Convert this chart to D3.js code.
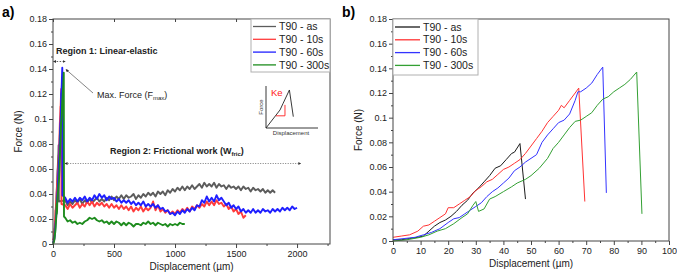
<!DOCTYPE html>
<meta charset="utf-8">
<style>
body { margin: 0; background: #fff; }
svg { font-family: "Liberation Sans", Arial, sans-serif; }
.frame { fill: none; stroke: #444; stroke-width: 1; }
.axis path { display: none; }
.axis line { stroke: #444; }
.axis text { font-size: 9px; fill: #222; }
.title { font-size: 10px; fill: #222; }
.series { fill: none; stroke-linejoin: round; }
.legend text { font-size: 10.5px; fill: #222; }
.note { font-size: 9px; fill: #222; }
.bold { font-weight: bold; }
</style>
<svg width="677" height="274"></svg>
<script src="https://d3js.org/d3.v7.min.js"></script>
<script>

// ---- data ----
var seriesNames = ["T90 - as", "T90 - 10s", "T90 - 60s", "T90 - 300s"];
var yTicks = [0, 0.02, 0.04, 0.06, 0.08, 0.1, 0.12, 0.14, 0.16, 0.18];
var yTickLabels = ["0", "0.02", "0.04", "0.06", "0.08", "0.1", "0.12", "0.14", "0.16", "0.18"];
var xTicksA = [0, 500, 1000, 1500, 2000];
var xTicksB = [0, 10, 20, 30, 40, 50, 60, 70, 80, 90, 100];

// loading part up to fracture (displacement um, force N), panel b
var asX   = [0, 3, 6, 9, 11, 13, 15, 17, 19, 21, 23, 25, 27, 29, 31, 33, 35, 37, 39, 41, 43, 44, 46, 48];
var asY   = [.001, .001, .002, .003, .004, .008, .012, .015, .017, .020, .024, .029, .033, .039, .043, .048, .053, .059, .061, .066, .071, .072, .079, .034];
var s10X  = [0, 3, 6, 9, 11, 13, 15, 17, 19, 20, 22, 24, 26, 28, 30, 32, 34, 36, 38, 40, 42, 44, 46, 48, 50, 52, 54, 56, 58, 60, 61, 62, 64, 66, 67.3, 69.5];
var s10Y  = [.003, .004, .005, .008, .012, .013, .016, .019, .022, .027, .027, .030, .033, .036, .041, .044, .048, .050, .054, .058, .060, .063, .066, .071, .077, .083, .089, .096, .101, .106, .110, .108, .114, .120, .124, .032];
var s60X  = [0, 4, 8, 11, 14, 17, 20, 22, 24, 26, 28, 30, 32, 34, 36, 38, 40, 42, 44, 46, 48, 50, 52, 54, 56, 58, 60, 62, 64, 66, 67, 68, 70, 72, 74, 76, 77.3];
var s60Y  = [.001, .002, .003, .005, .007, .010, .015, .018, .019, .022, .025, .028, .031, .036, .040, .043, .047, .051, .057, .060, .064, .067, .070, .080, .086, .091, .096, .098, .103, .114, .121, .121, .124, .128, .135, .141, .039];
var s300X = [0, 5, 10, 13, 16, 19, 22, 25, 27, 29, 30, 31, 33, 35, 37, 40, 43, 45, 48, 50, 53, 56, 58, 60, 62, 64, 66, 68, 70, 72, 74, 76, 78, 80, 82, 84, 86, 88.3, 90.2];
var s300Y = [0, .001, .003, .005, .008, .010, .014, .019, .022, .029, .032, .024, .026, .034, .036, .040, .044, .047, .050, .053, .059, .067, .075, .080, .086, .092, .097, .098, .101, .104, .110, .115, .117, .121, .124, .127, .131, .137, .022];

// frictional part, panel a: sampled every 20 um from 100 um
var fricStart = 100, fricStep = 20;
var asFric = [
  .035,.031,.034,.032,.035, .033,.036,.032,.035,.033, .036,.033,.035,.037,.034, .036,.034,.037,.035,.038,
  .035,.038,.036,.039,.036, .039,.037,.038,.040,.036, .039,.037,.040,.038,.041, .039,.041,.038,.042,.040,
  .042,.039,.043,.041,.044, .042,.045,.043,.046,.043, .046,.044,.047,.044,.046, .048,.045,.049,.046,.048,
  .046,.049,.045,.048,.046, .047,.044,.047,.045,.046, .044,.046,.043,.046,.044, .045,.042,.045,.043,.044,
  .042,.044,.041,.043,.041, .043,.041];
var s10Fric = [
  .031,.028,.032,.029,.031, .033,.029,.032,.030,.034, .031,.034,.030,.033,.031, .033,.030,.032,.029,.032,
  .029,.031,.028,.031,.028, .030,.027,.030,.026,.029, .027,.030,.026,.029,.027, .029,.034,.027,.031,.026,
  .028,.025,.027,.024,.026, .024,.027,.025,.028,.026, .029,.026,.030,.028,.031, .029,.032,.030,.034,.031,
  .034,.031,.035,.032,.033, .030,.032,.028,.030,.026, .028,.024,.026,.021,.023];
var s60Fric = [
  .037,.033,.036,.034,.037, .034,.037,.035,.038,.034, .037,.035,.039,.036,.040, .037,.039,.035,.038,.036,
  .037,.034,.036,.033,.035, .033,.035,.032,.034,.031, .033,.031,.034,.030,.032, .030,.032,.029,.031,.028,
  .029,.026,.027,.024,.025, .023,.026,.024,.027,.025, .028,.026,.029,.027,.031, .030,.035,.033,.038,.034,
  .037,.034,.039,.035,.037, .034,.031,.033,.029,.031, .028,.030,.026,.028,.025, .027,.025,.028,.025,.027,
  .025,.028,.026,.027,.025, .028,.026,.028,.026,.029, .027,.029,.027,.030,.028, .029];
var s300Fric = [
  .021,.018,.019,.017,.018, .016,.017,.016,.018,.019, .021,.020,.021,.019,.018, .019,.017,.018,.016,.018,
  .016,.018,.017,.015,.017, .015,.017,.016,.014,.016, .016,.015,.017,.016,.018, .016,.017,.015,.017,.016,
  .015,.016,.014,.016,.015, .016,.015,.017,.016,.016];

// sketch in the inset (relative units)
var insetCurve = [[0, 0], [0.27, 0.43], [0.33, 0.59], [0.45, 0.905], [0.525, 0.27]];
var insetKe = [[0.19, 0.29], [0.365, 0.29], [0.365, 0.55]];

var colorsA = ["#5c5c5c", "#ff3b3b", "#1f1fff", "#1e8c1e"];
var colorsB = ["#1a1a1a", "#ff3333", "#3333ff", "#33a033"];

// ---- helpers ----
var svg = d3.select("svg");

function zip(xs, ys) { return xs.map(function(v, i) { return [v, ys[i]]; }); }
function fric(vals) { return vals.map(function(v, i) { return [fricStart + i * fricStep, v]; }); }

var loading = [zip(asX, asY), zip(s10X, s10Y), zip(s60X, s60Y), zip(s300X, s300Y)];
var frictional = [asFric, s10Fric, s60Fric, s300Fric].map(fric);

function panel(opt) {
  var x = d3.scaleLinear().domain(opt.xDomain).range(opt.xRange),
      y = d3.scaleLinear().domain([0, 0.18]).range(opt.yRange);
  var g = svg.append("g");

  // minor ticks
  g.append("g").attr("class", "axis")
      .attr("transform", "translate(0," + opt.yRange[0] + ")")
      .call(d3.axisBottom(x).tickValues(opt.xMinor).tickSize(2).tickFormat(""));
  g.append("g").attr("class", "axis")
      .attr("transform", "translate(" + opt.xRange[0] + ",0)")
      .call(d3.axisLeft(y).tickValues(d3.range(0.01, 0.18, 0.02)).tickSize(2).tickFormat(""));

  g.append("g").attr("class", "axis")
      .attr("transform", "translate(0," + opt.yRange[0] + ")")
      .call(d3.axisBottom(x).tickValues(opt.xTicks).tickSize(4).tickPadding(3).tickFormat(d3.format("d")));
  g.append("g").attr("class", "axis")
      .attr("transform", "translate(" + opt.xRange[0] + ",0)")
      .call(d3.axisLeft(y).tickValues(yTicks).tickSize(4).tickPadding(2)
        .tickFormat(function(d, i) { return yTickLabels[i]; }));
  if (opt.topTicks) {
    g.append("g").attr("class", "axis")
        .attr("transform", "translate(0," + opt.yRange[1] + ")")
        .call(d3.axisBottom(x).tickValues(opt.xTicks).tickSize(3).tickFormat(""));
  }

  var line = d3.line().x(function(d) { return x(d[0]); }).y(function(d) { return y(d[1]); });
  g.selectAll(".series").data(opt.series).enter().append("path")
      .attr("class", "series")
      .attr("stroke", function(d, i) { return opt.colors[i]; })
      .attr("stroke-width", opt.lineWidth)
      .attr("d", line);

  g.append("rect").attr("class", "frame")
      .attr("x", opt.xRange[0]).attr("y", opt.yRange[1])
      .attr("width", opt.xRange[1] - opt.xRange[0])
      .attr("height", opt.yRange[0] - opt.yRange[1]);

  g.append("text").attr("class", "title")
      .attr("x", (opt.xRange[0] + opt.xRange[1]) / 2).attr("y", opt.yRange[0] + 26)
      .attr("text-anchor", "middle").text("Displacement (\u00b5m)");
  g.append("text").attr("class", "title")
      .attr("transform", "translate(" + (opt.xRange[0] - 31) + "," + ((opt.yRange[0] + opt.yRange[1]) / 2) + ") rotate(-90)")
      .attr("text-anchor", "middle").text("Force (N)");

  g.append("text").attr("class", "bold")
      .attr("x", opt.xRange[0] - 51).attr("y", 17)
      .style("font-size", "14px").text(opt.label);

  // legend
  var L = opt.legend;
  var lg = g.append("g").attr("class", "legend");
  lg.append("rect").attr("x", L.x).attr("y", opt.yRange[1]).attr("width", L.w).attr("height", L.h)
      .attr("fill", "#fff").attr("stroke", "#b0b0b0");
  seriesNames.forEach(function(name, i) {
    var ry = opt.yRange[1] + L.first + i * 12.8;
    lg.append("line").attr("x1", L.x + 2).attr("x2", L.x + L.line).attr("y1", ry).attr("y2", ry)
        .attr("stroke", opt.colors[i]).attr("stroke-width", 1.3);
    lg.append("text").attr("x", L.x + L.line + 3).attr("y", ry).attr("dy", "0.35em").text(name);
  });

  return {g: g, x: x, y: y};
}

var A = panel({
  label: "a)", xDomain: [0, 2270], xRange: [53, 330], yRange: [244, 19],
  xTicks: xTicksA, xMinor: d3.range(250, 2270, 500), topTicks: true,
  series: loading.map(function(d, i) { return d.concat(frictional[i]); }),
  colors: colorsA, lineWidth: 1.9,
  legend: {x: 251, w: 79, h: 53, first: 7.5, line: 25}
});

var B = panel({
  label: "b)", xDomain: [0, 100], xRange: [393, 669], yRange: [241, 19],
  xTicks: xTicksB, xMinor: d3.range(5, 100, 10), topTicks: false,
  series: loading, colors: colorsB, lineWidth: 1,
  legend: {x: 393, w: 85, h: 56, first: 8, line: 27}
});

// ---- annotations on panel a ----
var defs = svg.append("defs");
defs.append("marker").attr("id", "ah").attr("viewBox", "0 0 6 6").attr("refX", 5).attr("refY", 3)
    .attr("markerWidth", 4).attr("markerHeight", 4).attr("orient", "auto-start-reverse")
  .append("path").attr("d", "M0,0L6,3L0,6Z").attr("fill", "#333");

var g = A.g, x = A.x, y = A.y;

g.append("text").attr("class", "note bold").attr("x", 56).attr("y", 54).text("Region 1: Linear-elastic");
g.append("line").attr("x1", x(5)).attr("x2", x(100)).attr("y1", 61.5).attr("y2", 61.5)
    .attr("stroke", "#333").attr("stroke-width", 0.8).attr("stroke-dasharray", "1.5,1.5")
    .attr("marker-start", "url(#ah)").attr("marker-end", "url(#ah)");

var mf = g.append("text").attr("class", "note").attr("x", 97).attr("y", 98).text("Max. Force (F");
mf.append("tspan").attr("dy", 2).style("font-size", "6px").text("max");
mf.append("tspan").attr("dy", -2).text(")");
g.append("line").attr("x1", 93).attr("y1", 93).attr("x2", 66).attr("y2", 69.5)
    .attr("stroke", "#666").attr("stroke-width", 0.8).attr("marker-end", "url(#ah)");

var r2 = g.append("text").attr("class", "note bold").attr("x", 110).attr("y", 154)
    .text("Region 2: Frictional work (W");
r2.append("tspan").attr("dy", 2).style("font-size", "6px").text("fric");
r2.append("tspan").attr("dy", -2).text(")");
g.append("line").attr("x1", x(100)).attr("x2", x(2030)).attr("y1", 163.5).attr("y2", 163.5)
    .attr("stroke", "#444").attr("stroke-width", 0.7).attr("stroke-dasharray", "1,1.5")
    .attr("marker-start", "url(#ah)").attr("marker-end", "url(#ah)");

// inset sketch
var ix = d3.scaleLinear().domain([0, 1]).range([266, 318]),
    iy = d3.scaleLinear().domain([0, 1]).range([128, 86]);
var il = d3.line().x(function(d) { return ix(d[0]); }).y(function(d) { return iy(d[1]); });
g.append("path").attr("d", il([[0, 1], [0, 0], [1, 0]])).attr("fill", "none").attr("stroke", "#222").attr("stroke-width", 0.9);
g.append("path").attr("d", il(insetCurve)).attr("fill", "none").attr("stroke", "#222").attr("stroke-width", 0.9);
g.append("path").attr("d", il(insetKe)).attr("fill", "none").attr("stroke", "#ff2020").attr("stroke-width", 0.9);
g.append("text").attr("x", 271).attr("y", 96).style("font-size", "9.5px").attr("fill", "#ff2020").text("Ke");
g.append("text").attr("transform", "translate(263,107) rotate(-90)").attr("text-anchor", "middle")
    .style("font-size", "6px").attr("fill", "#333").text("Force");
g.append("text").attr("x", 291).attr("y", 135).attr("text-anchor", "middle")
    .style("font-size", "6px").attr("fill", "#333").text("Displacement");

</script>
